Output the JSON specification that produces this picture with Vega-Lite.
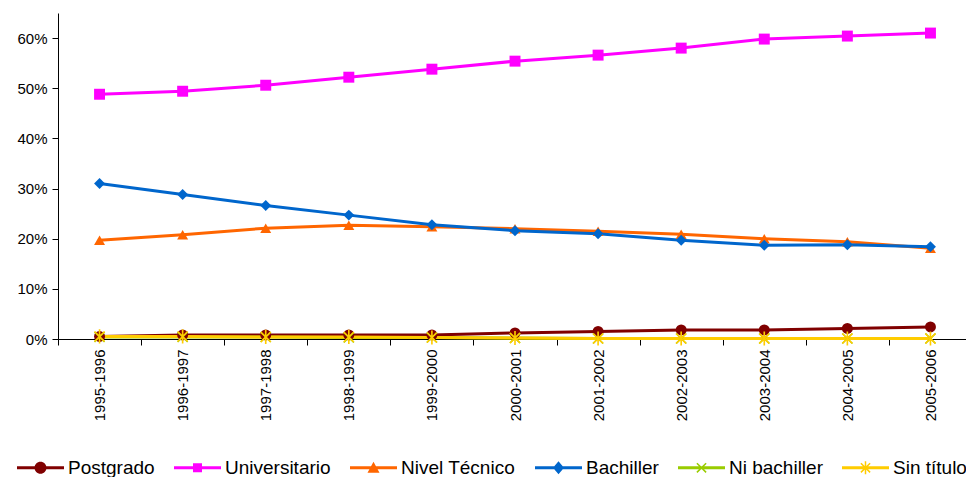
{
  "$schema": "https://vega.github.io/schema/vega-lite/v6.json",
  "width": 914,
  "height": 326,
  "autosize": {"type": "none"},
  "padding": {"left": 58, "top": 13, "right": 0, "bottom": 138},
  "background": "white",
  "config": {
    "font": "Liberation Sans",
    "view": {"stroke": null},
    "axis": {"labelColor": "black", "domainColor": "black", "tickColor": "black", "labelFont": "Liberation Sans", "labelFontSize": 15, "grid": false, "domainWidth": 1, "tickWidth": 1},
    "legend": {"labelFont": "Liberation Sans", "labelFontSize": 19, "labelColor": "black", "padding": 0}
  },
  "data": {
    "values": [
      {"year": "1995-1996", "series": "Postgrado", "value": 0.005},
      {"year": "1996-1997", "series": "Postgrado", "value": 0.008},
      {"year": "1997-1998", "series": "Postgrado", "value": 0.008},
      {"year": "1998-1999", "series": "Postgrado", "value": 0.008},
      {"year": "1999-2000", "series": "Postgrado", "value": 0.008},
      {"year": "2000-2001", "series": "Postgrado", "value": 0.012},
      {"year": "2001-2002", "series": "Postgrado", "value": 0.015},
      {"year": "2002-2003", "series": "Postgrado", "value": 0.018},
      {"year": "2003-2004", "series": "Postgrado", "value": 0.018},
      {"year": "2004-2005", "series": "Postgrado", "value": 0.021},
      {"year": "2005-2006", "series": "Postgrado", "value": 0.024},
      {"year": "1995-1996", "series": "Universitario", "value": 0.488},
      {"year": "1996-1997", "series": "Universitario", "value": 0.494},
      {"year": "1997-1998", "series": "Universitario", "value": 0.506},
      {"year": "1998-1999", "series": "Universitario", "value": 0.522},
      {"year": "1999-2000", "series": "Universitario", "value": 0.538},
      {"year": "2000-2001", "series": "Universitario", "value": 0.554},
      {"year": "2001-2002", "series": "Universitario", "value": 0.566},
      {"year": "2002-2003", "series": "Universitario", "value": 0.580},
      {"year": "2003-2004", "series": "Universitario", "value": 0.598},
      {"year": "2004-2005", "series": "Universitario", "value": 0.604},
      {"year": "2005-2006", "series": "Universitario", "value": 0.610},
      {"year": "1995-1996", "series": "Nivel Técnico", "value": 0.197},
      {"year": "1996-1997", "series": "Nivel Técnico", "value": 0.208},
      {"year": "1997-1998", "series": "Nivel Técnico", "value": 0.221},
      {"year": "1998-1999", "series": "Nivel Técnico", "value": 0.227},
      {"year": "1999-2000", "series": "Nivel Técnico", "value": 0.224},
      {"year": "2000-2001", "series": "Nivel Técnico", "value": 0.220},
      {"year": "2001-2002", "series": "Nivel Técnico", "value": 0.215},
      {"year": "2002-2003", "series": "Nivel Técnico", "value": 0.209},
      {"year": "2003-2004", "series": "Nivel Técnico", "value": 0.200},
      {"year": "2004-2005", "series": "Nivel Técnico", "value": 0.194},
      {"year": "2005-2006", "series": "Nivel Técnico", "value": 0.181},
      {"year": "1995-1996", "series": "Bachiller", "value": 0.310},
      {"year": "1996-1997", "series": "Bachiller", "value": 0.288},
      {"year": "1997-1998", "series": "Bachiller", "value": 0.266},
      {"year": "1998-1999", "series": "Bachiller", "value": 0.247},
      {"year": "1999-2000", "series": "Bachiller", "value": 0.228},
      {"year": "2000-2001", "series": "Bachiller", "value": 0.216},
      {"year": "2001-2002", "series": "Bachiller", "value": 0.210},
      {"year": "2002-2003", "series": "Bachiller", "value": 0.197},
      {"year": "2003-2004", "series": "Bachiller", "value": 0.187},
      {"year": "2004-2005", "series": "Bachiller", "value": 0.188},
      {"year": "2005-2006", "series": "Bachiller", "value": 0.184},
      {"year": "1995-1996", "series": "Ni bachiller", "value": 0.004},
      {"year": "1996-1997", "series": "Ni bachiller", "value": 0.004},
      {"year": "1997-1998", "series": "Ni bachiller", "value": 0.004},
      {"year": "1998-1999", "series": "Ni bachiller", "value": 0.003},
      {"year": "1999-2000", "series": "Ni bachiller", "value": 0.003},
      {"year": "2000-2001", "series": "Ni bachiller", "value": 0.002},
      {"year": "2001-2002", "series": "Ni bachiller", "value": 0.001},
      {"year": "2002-2003", "series": "Ni bachiller", "value": 0.001},
      {"year": "2003-2004", "series": "Ni bachiller", "value": 0.001},
      {"year": "2004-2005", "series": "Ni bachiller", "value": 0.001},
      {"year": "2005-2006", "series": "Ni bachiller", "value": 0.001},
      {"year": "1995-1996", "series": "Sin título", "value": 0.005},
      {"year": "1996-1997", "series": "Sin título", "value": 0.005},
      {"year": "1997-1998", "series": "Sin título", "value": 0.004},
      {"year": "1998-1999", "series": "Sin título", "value": 0.004},
      {"year": "1999-2000", "series": "Sin título", "value": 0.003},
      {"year": "2000-2001", "series": "Sin título", "value": 0.002},
      {"year": "2001-2002", "series": "Sin título", "value": 0.001},
      {"year": "2002-2003", "series": "Sin título", "value": 0.001},
      {"year": "2003-2004", "series": "Sin título", "value": 0.001},
      {"year": "2004-2005", "series": "Sin título", "value": 0.001},
      {"year": "2005-2006", "series": "Sin título", "value": 0.001}
    ]
  },
  "encoding": {
    "x": {
      "field": "year", "type": "ordinal", "bandPosition": 0.5,
      "scale": {"type": "band", "paddingInner": 0, "paddingOuter": 0},
      "axis": {"title": null, "labelAngle": -90, "tickBand": "extent", "tickSize": 6, "labelPadding": 4}
    },
    "y": {
      "field": "value", "type": "quantitative",
      "scale": {"domain": [0, 0.65], "nice": false, "zero": true},
      "axis": {"title": null, "format": ".0%", "values": [0, 0.1, 0.2, 0.3, 0.4, 0.5, 0.6], "tickSize": 6, "labelPadding": 5}
    },
    "color": {
      "field": "series", "type": "nominal",
      "sort": ["Postgrado", "Universitario", "Nivel Técnico", "Bachiller", "Ni bachiller", "Sin título"],
      "scale": {"range": ["#800000", "#FF00FF", "#FF6600", "#0066CC", "#99CC00", "#FFCC00"]},
      "legend": {
        "title": null, "orient": "none", "direction": "horizontal", "columns": 6,
        "legendX": -41, "legendY": 445,
        "symbolSize": 100, "symbolStrokeWidth": 0,
        "symbolOffset": 14, "labelOffset": 18, "columnPadding": 19,
        "encode": {
          "symbols": {
            "update": {
              "fill": {"scale": "color", "field": "value"},
              "fillOpacity": {"value": 1},
              "opacity": {"value": 1},
              "strokeWidth": {"value": 0},
              "size": {"value": 100},
              "shape": {"signal": "datum.value === 'Postgrado' ? 'M-4.7,-0.3L4.7,-0.3L4.7,0.3L-4.7,0.3ZM-1.2,0A1.2,1.2 0 1,1 1.2,0A1.2,1.2 0 1,1 -1.2,0Z' : datum.value === 'Universitario' ? 'M-4.7,-0.3L4.7,-0.3L4.7,0.3L-4.7,0.3ZM-0.9,-0.9L0.9,-0.9L0.9,0.9L-0.9,0.9Z' : datum.value === 'Nivel Técnico' ? 'M-4.7,-0.3L4.7,-0.3L4.7,0.3L-4.7,0.3ZM0,-1.2L1.2,1L-1.2,1Z' : datum.value === 'Bachiller' ? 'M-4.7,-0.3L4.7,-0.3L4.7,0.3L-4.7,0.3ZM0,-1.3L1.1,0L0,1.3L-1.1,0Z' : datum.value === 'Ni bachiller' ? 'M-4.7,-0.3L4.7,-0.3L4.7,0.3L-4.7,0.3ZM-0.813,-1.025L1.025,0.813L0.813,1.025L-1.025,-0.813ZM-1.025,0.813L0.813,-1.025L1.025,-0.813L-0.813,1.025Z' : 'M-4.7,-0.3L4.7,-0.3L4.7,0.3L-4.7,0.3ZM-0.813,-1.025L1.025,0.813L0.813,1.025L-1.025,-0.813ZM-1.025,0.813L0.813,-1.025L1.025,-0.813L-0.813,1.025ZM0.15,-1.3L0.15,1.3L-0.15,1.3L-0.15,-1.3Z'"}
            }
          }
        }
      }
    }
  },
  "layer": [
    {
      "mark": {"type": "line", "strokeWidth": 3}
    },
    {
      "mark": {"type": "point", "filled": true, "size": 120, "opacity": 1},
      "encoding": {
        "shape": {
          "field": "series", "type": "nominal",
          "sort": ["Postgrado", "Universitario", "Nivel Técnico", "Bachiller", "Ni bachiller", "Sin título"],
          "scale": {"range": ["circle", "square", "triangle-up", "diamond", "M-0.813,-1.025L1.025,0.813L0.813,1.025L-1.025,-0.813ZM-1.025,0.813L0.813,-1.025L1.025,-0.813L-0.813,1.025Z", "M-0.813,-1.025L1.025,0.813L0.813,1.025L-1.025,-0.813ZM-1.025,0.813L0.813,-1.025L1.025,-0.813L-0.813,1.025ZM0.15,-1.3L0.15,1.3L-0.15,1.3L-0.15,-1.3Z"]},
          "legend": null
        }
      }
    }
  ]
}
